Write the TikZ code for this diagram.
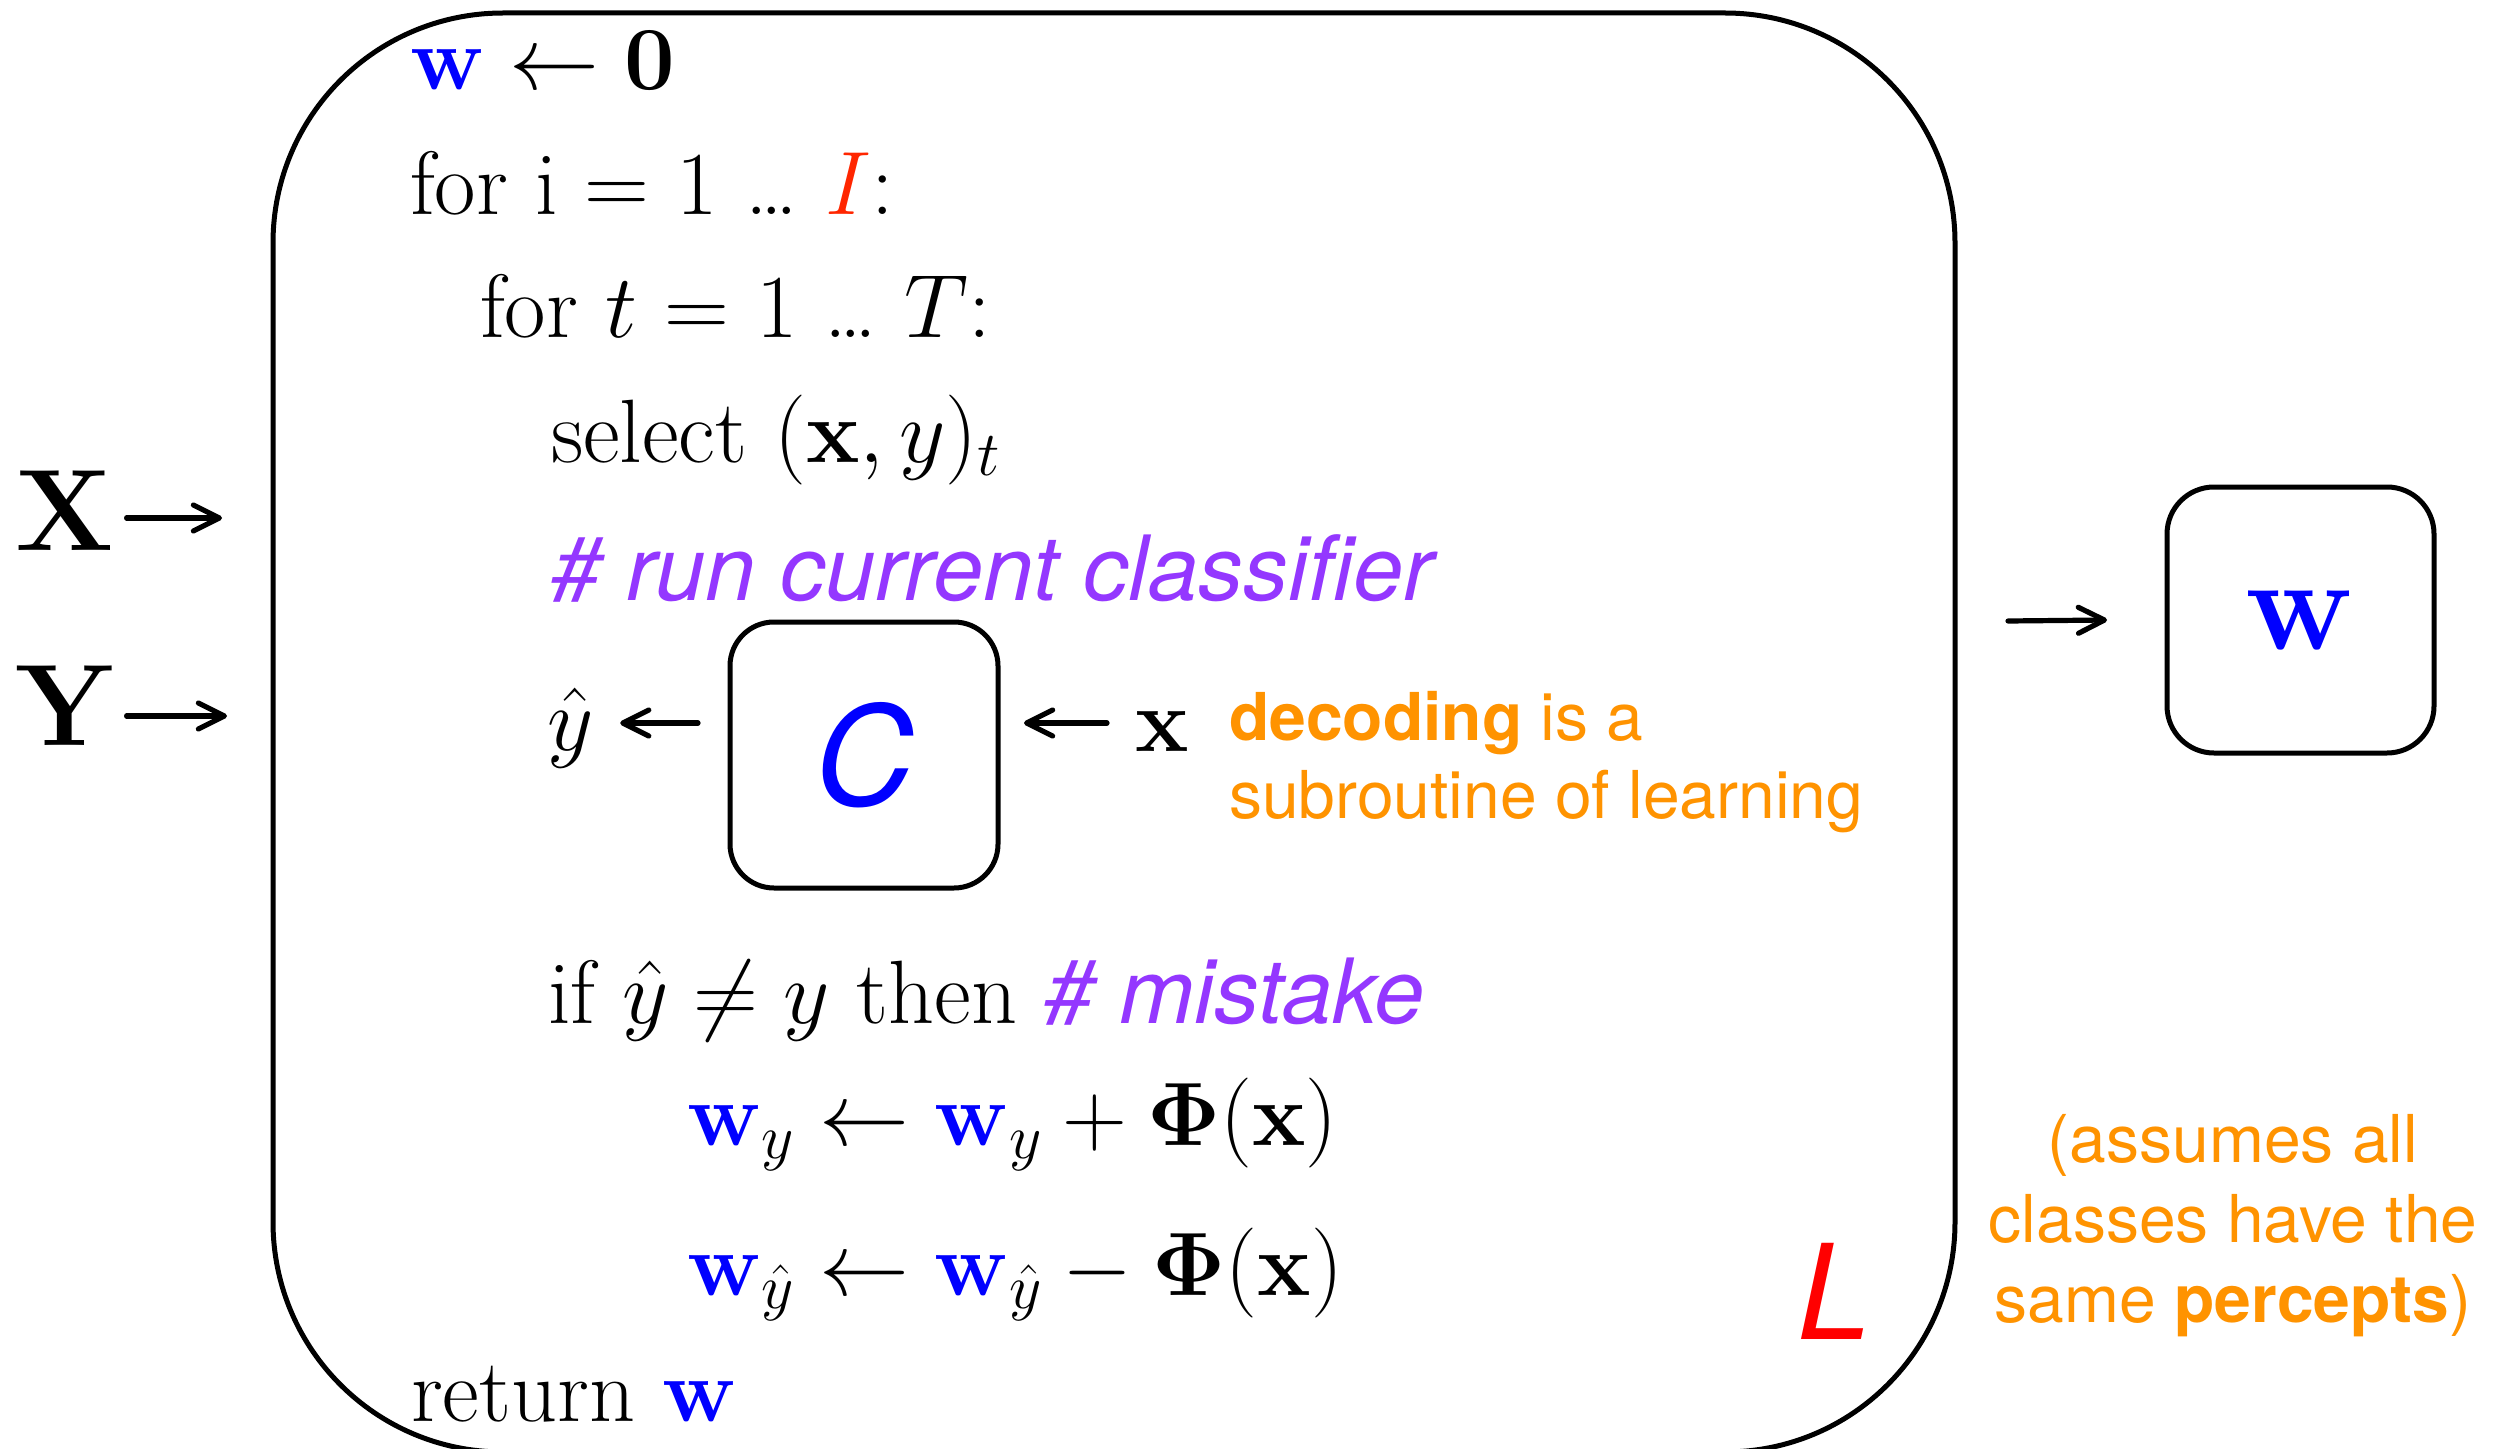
\RequirePackage{fix-cm}
\documentclass[tikz,border=0pt]{standalone}
\usepackage[no-math]{fontspec}
\newfontfamily\hel{TeX Gyre Heros}
\usetikzlibrary{arrows.meta}
\definecolor{wblue}{RGB}{0,0,255}
\definecolor{cpurple}{RGB}{148,55,255}
\definecolor{corange}{RGB}{255,147,0}
\definecolor{cred}{RGB}{255,38,0}
\definecolor{lred}{RGB}{255,0,0}
\begin{document}
\begin{tikzpicture}[x=0.5pt,y=-0.5pt,
  every node/.style={inner sep=0pt,outer sep=0pt},
  code/.style={anchor=base west,font=\fontsize{45}{54}\selectfont},
  cmt/.style={anchor=base west,font=\hel\itshape\fontsize{45}{54}\selectfont,text=cpurple},
  note/.style={font=\hel\fontsize{33}{40}\selectfont,text=corange},
  big/.style={anchor=base west,font=\fontsize{58}{70}\selectfont\bfseries},
  box/.style={draw,line width=2.5pt,rounded corners=22pt,minimum width=134pt,minimum height=133pt},
  arr/.style={line width=2.6pt,line cap=round,-{Straight Barb[length=13pt,width=13pt,round]}}]
\useasboundingbox[fill=white] (0,0) rectangle (2498,1449);
% learner box
\node[draw,line width=2.5pt,rounded corners=115pt,minimum width=841pt,minimum height=719.5pt] (learner) at (1114,732.5) {};
% pseudocode
\node[code] (l1) at (410,90) {$\textcolor{wblue}{\mathbf{w}}\leftarrow\mathbf{0}$};
\node[code] (l2) at (410,215) {for i = 1 \ldots\ $\textcolor{cred}{I}$:};
\node[code] (l3) at (480,338) {for $t$ = 1 \ldots\ $T$:};
\node[code] (l4) at (551,462) {select $(\mathbf{x}, y)_t$};
\node[cmt] (l5) at (551,600) {\# run current classifier};
\node[code] (yhat) at (547,750) {$\hat{y}$};
\node[box] (C) at (864,755) {\hel\itshape\fontsize{69}{82}\selectfont\color{wblue}C};
\node[code] (xv) at (1135,751) {$\mathbf{x}$};
\node[note,anchor=base west] (dec1) at (1229,740) {{\bfseries decoding} is a};
\node[note,anchor=base west] (dec2) at (1229,818) {subroutine of learning};
\node[code] (l7) at (548,1023) {if $\hat{y}\neq y$ then {\hel\itshape\color{cpurple}\# mistake}};
\node[code] (l8) at (687,1145) {$\textcolor{wblue}{\mathbf{w}}_y \leftarrow \textcolor{wblue}{\mathbf{w}}_y + \mathbf{\Phi}(\mathbf{x})$};
\node[code] (l9) at (687,1295) {$\textcolor{wblue}{\mathbf{w}}_{\hat{y}} \leftarrow \textcolor{wblue}{\mathbf{w}}_{\hat{y}} - \mathbf{\Phi}(\mathbf{x})$};
\node[code] (l10) at (411,1421) {return $\textcolor{wblue}{\mathbf{w}}$};
\node[anchor=base west,font=\hel\itshape\fontsize{66}{79}\selectfont,text=lred] (Llab) at (1797,1339) {L};
% inputs
\node[big] (X) at (16,550) {X};
\node[big] (Y) at (16,745) {Y};
\coordinate (xin) at (222,518);
\coordinate (yin) at (227,716);
\draw[arr,shorten <=6pt] (X.east |- xin) -- (xin);
\draw[arr,shorten <=6pt] (Y.east |- yin) -- (yin);
% classifier arrows
\coordinate (row) at (0,723);
\draw[arr,shorten <=16pt,shorten >=13.5pt] (C.west |- row) -- (yhat.east |- row);
\draw[arr,shorten <=14pt,shorten >=13pt] (xv.west |- row) -- (C.east |- row);
% output
\node[draw,line width=2.5pt,rounded corners=23.5pt,minimum width=133.5pt,minimum height=133pt,font=\fontsize{66}{79}\selectfont] (wbox) at (2300.5,620) {$\textcolor{wblue}{\mathbf{w}}$};
\coordinate (wout) at (2008,621);
\draw[arr] (wout) -- ([xshift=-30pt]wbox.west);
% note
\node[note,anchor=base] (n1) at (2233,1162) {(assumes all};
\node[note,anchor=base] (n2) at (2233,1242) {classes have the};
\node[note,anchor=base] (n3) at (2233,1322) {same {\bfseries percepts})};
\end{tikzpicture}
\end{document}
